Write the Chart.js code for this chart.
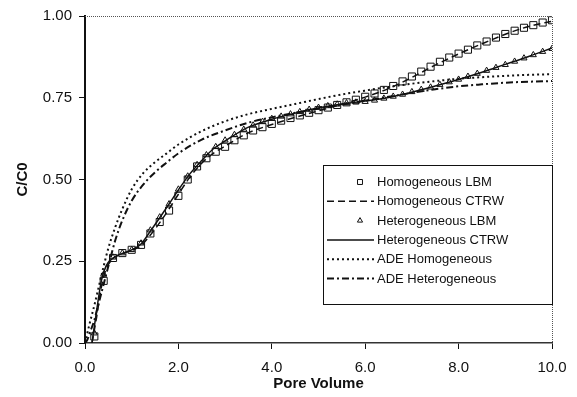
<!DOCTYPE html>
<html>
<head>
<meta charset="utf-8">
<script src="https://cdn.jsdelivr.net/npm/chart.js@4/dist/chart.umd.min.js"></script>
<style>
  html, body { margin: 0; padding: 0; background: #ffffff; }
  #wrap { width: 577px; height: 397px; }
</style>
</head>
<body>
<div id="wrap"><canvas id="chart-breakthrough" width="577" height="397"></canvas></div>
<script>
// Breakthrough curves - C/C0 vs pore volume

// LBM samples (markers)
const lbmPV = [0.2, 0.4, 0.6, 0.8, 1.0, 1.2, 1.4, 1.6, 1.8, 2.0,
               2.2, 2.4, 2.6, 2.8, 3.0, 3.2, 3.4, 3.6, 3.8, 4.0,
               4.2, 4.4, 4.6, 4.8, 5.0, 5.2, 5.4, 5.6, 5.8, 6.0,
               6.2, 6.4, 6.6, 6.8, 7.0, 7.2, 7.4, 7.6, 7.8, 8.0,
               8.2, 8.4, 8.6, 8.8, 9.0, 9.2, 9.4, 9.6, 9.8, 10.0];
const homLBM = [0.02, 0.19, 0.26, 0.275, 0.285, 0.30, 0.335, 0.37, 0.405, 0.45,
                0.50, 0.54, 0.565, 0.585, 0.60, 0.62, 0.635, 0.65, 0.66, 0.67,
                0.68, 0.688, 0.696, 0.704, 0.712, 0.72, 0.728, 0.736, 0.744, 0.753,
                0.763, 0.774, 0.786, 0.80, 0.815, 0.83, 0.845, 0.86, 0.873, 0.885,
                0.897, 0.91, 0.922, 0.934, 0.945, 0.955, 0.964, 0.972, 0.98, 0.987];
const hetLBM = [0.03, 0.21, 0.262, 0.275, 0.285, 0.305, 0.345, 0.385, 0.425, 0.47,
                0.51, 0.545, 0.575, 0.60, 0.62, 0.637, 0.653, 0.666, 0.677, 0.686,
                0.693, 0.70, 0.707, 0.714, 0.72, 0.725, 0.73, 0.734, 0.736, 0.738,
                0.742, 0.748, 0.754, 0.76, 0.768, 0.775, 0.782, 0.79, 0.798, 0.806,
                0.815, 0.824, 0.833, 0.842, 0.851, 0.861, 0.871, 0.881, 0.891, 0.90];

// CTRW fits (lines)
const ctrwPV = [0.15, 0.25, 0.35, 0.45, 0.6, 0.8, 1.0, 1.2, 1.4, 1.6,
                1.8, 2.0, 2.25, 2.5, 2.75, 3.0, 3.5, 4.0, 4.5, 5.0,
                5.5, 6.0, 6.5, 7.0, 7.5, 8.0, 8.5, 9.0, 9.5, 10.0];
const homCTRW = [0.0, 0.08, 0.17, 0.225, 0.258, 0.273, 0.283, 0.298, 0.33, 0.368,
                 0.41, 0.455, 0.508, 0.55, 0.58, 0.602, 0.643, 0.668, 0.69, 0.71,
                 0.73, 0.752, 0.778, 0.812, 0.85, 0.884, 0.915, 0.944, 0.968, 0.984];
const hetCTRW = [0.0, 0.10, 0.19, 0.235, 0.26, 0.274, 0.285, 0.303, 0.342, 0.383,
                 0.425, 0.468, 0.518, 0.558, 0.594, 0.618, 0.66, 0.684, 0.703, 0.719,
                 0.731, 0.74, 0.751, 0.767, 0.786, 0.806, 0.828, 0.852, 0.876, 0.902];

// ADE fits (lines)
const adePV = [0, 0.05, 0.1, 0.2, 0.3, 0.4, 0.5, 0.65, 0.8, 1.0,
               1.25, 1.5, 1.75, 2.0, 2.5, 3.0, 3.5, 4.0, 4.5, 5.0,
               5.5, 6.0, 6.5, 7.0, 7.5, 8.0, 8.5, 9.0, 9.5, 10.0];
const adeHom = [0.0, 0.03, 0.06, 0.115, 0.175, 0.235, 0.29, 0.355, 0.41, 0.47,
                0.52, 0.553, 0.58, 0.607, 0.648, 0.678, 0.70, 0.716, 0.731, 0.746,
                0.76, 0.772, 0.783, 0.793, 0.801, 0.808, 0.813, 0.817, 0.82, 0.822];
const adeHet = [0.0, 0.01, 0.03, 0.07, 0.125, 0.18, 0.235, 0.315, 0.375, 0.435,
                0.485, 0.522, 0.552, 0.58, 0.622, 0.65, 0.674, 0.69, 0.704, 0.717,
                0.729, 0.741, 0.753, 0.765, 0.776, 0.785, 0.791, 0.796, 0.799, 0.801];

const seriesLabels = ['Homogeneous LBM', 'Homogeneous CTRW', 'Heterogeneous LBM',
                      'Heterogeneous CTRW', 'ADE Homogeneous', 'ADE Heterogeneous'];
const xTicks = [0, 2, 4, 6, 8, 10];
const yTicks = [0, 0.25, 0.5, 0.75, 1.0];

const fontFamily = "'Liberation Sans', Arial, sans-serif";
const ink = '#111111';

const pairs = (xs, ys) => xs.map((x, i) => ({ x: x, y: ys[i] }));

// legend drawn inside the plot + dotted top/right frame
const insideLegend = {
    id: 'insideLegend',
    afterDatasetsDraw(chart) {
        const ctx = chart.ctx;
        const area = chart.chartArea;
        ctx.save();

        // frame (top + right)
        ctx.strokeStyle = '#555555';
        ctx.lineWidth = 1;
        ctx.setLineDash([1, 1]);
        ctx.beginPath();
        ctx.moveTo(area.left, area.top + 0.5);
        ctx.lineTo(area.right + 0.5, area.top + 0.5);
        ctx.lineTo(area.right + 0.5, area.bottom);
        ctx.stroke();
        ctx.setLineDash([]);

        // legend box
        const box = { x: 323.5, y: 165.5, w: 229, h: 139 };
        ctx.fillStyle = '#ffffff';
        ctx.fillRect(box.x, box.y, box.w, box.h);
        ctx.strokeStyle = ink;
        ctx.lineWidth = 1;
        ctx.strokeRect(box.x, box.y, box.w, box.h);

        ctx.font = '13px ' + fontFamily;
        ctx.textBaseline = 'middle';
        ctx.textAlign = 'left';
        chart.data.datasets.forEach((ds, i) => {
            const y = 182 + i * 19.3;
            ctx.strokeStyle = ink;
            if (ds.showLine) {
                ctx.lineWidth = ds.borderWidth;
                ctx.setLineDash(ds.borderDash || []);
                ctx.beginPath();
                ctx.moveTo(327, y);
                ctx.lineTo(374, y);
                ctx.stroke();
                ctx.setLineDash([]);
            } else {
                ctx.fillStyle = 'rgba(0,0,0,0)';
                ctx.lineWidth = 1;
                Chart.helpers.drawPoint(ctx, {
                    pointStyle: ds.pointStyle,
                    radius: ds.pointStyle === 'rect' ? 3.5 : 3,
                    rotation: 0,
                    borderWidth: 1
                }, 360, y);
            }
            ctx.fillStyle = ink;
            ctx.fillText(ds.label, 377, y + 0.5);
        });
        ctx.restore();
    }
};

function createBreakthroughChart() {
    const ctx = document.getElementById('chart-breakthrough');
    if (!ctx) return;

    const lineBase = {
        showLine: true,
        pointRadius: 0,
        pointHoverRadius: 0,
        borderColor: ink,
        backgroundColor: 'transparent',
        cubicInterpolationMode: 'monotone'
    };

    new Chart(ctx, {
        type: 'scatter',
        data: {
            datasets: [
                {
                    label: seriesLabels[0],
                    data: pairs(lbmPV, homLBM),
                    showLine: false,
                    pointStyle: 'rect',
                    pointRadius: 5,
                    borderColor: ink,
                    borderWidth: 1,
                    backgroundColor: 'rgba(0,0,0,0)'
                },
                { ...lineBase, label: seriesLabels[1], data: pairs(ctrwPV, homCTRW), borderWidth: 1.5, borderDash: [7, 4] },
                {
                    label: seriesLabels[2],
                    data: pairs(lbmPV, hetLBM),
                    showLine: false,
                    pointStyle: 'triangle',
                    pointRadius: 3.5,
                    borderColor: ink,
                    borderWidth: 1,
                    backgroundColor: 'rgba(0,0,0,0)'
                },
                { ...lineBase, label: seriesLabels[3], data: pairs(ctrwPV, hetCTRW), borderWidth: 1.5 },
                { ...lineBase, label: seriesLabels[4], data: pairs(adePV, adeHom), borderWidth: 2, borderDash: [2, 3] },
                { ...lineBase, label: seriesLabels[5], data: pairs(adePV, adeHet), borderWidth: 2, borderDash: [7, 3, 2, 3] }
            ]
        },
        options: {
            responsive: false,
            animation: false,
            layout: { padding: { top: 13, right: 25, left: 0, bottom: 0 } },
            plugins: {
                legend: { display: false },
                tooltip: { enabled: false }
            },
            scales: {
                x: {
                    type: 'linear',
                    min: 0,
                    max: 10,
                    afterFit: s => { s.height = 54; },
                    afterBuildTicks: s => { s.ticks = xTicks.map(v => ({ value: v })); },
                    border: { color: '#333333', width: 1.5 },
                    grid: { drawOnChartArea: false, drawTicks: true, tickLength: 6, color: ink, lineWidth: 1 },
                    ticks: {
                        color: ink,
                        padding: 10,
                        maxRotation: 0,
                        font: { family: fontFamily, size: 15 },
                        callback: v => Number(v).toFixed(1)
                    },
                    title: {
                        display: true,
                        text: 'Pore Volume',
                        color: ink,
                        padding: { top: 0, bottom: 4 },
                        font: { family: fontFamily, size: 15, weight: 'bold' }
                    }
                },
                y: {
                    type: 'linear',
                    min: 0,
                    max: 1,
                    afterFit: s => { s.width = 85; },
                    afterBuildTicks: s => { s.ticks = yTicks.map(v => ({ value: v })); },
                    border: { color: ink, width: 2 },
                    grid: { drawOnChartArea: false, drawTicks: true, tickLength: 6, color: ink, lineWidth: 1 },
                    ticks: {
                        color: ink,
                        padding: 7,
                        font: { family: fontFamily, size: 15 },
                        callback: v => Number(v).toFixed(2)
                    },
                    title: {
                        display: true,
                        text: 'C/C0',
                        color: ink,
                        padding: { top: 14, bottom: 0 },
                        font: { family: fontFamily, size: 15, weight: 'bold' }
                    }
                }
            }
        },
        plugins: [insideLegend]
    });
}

createBreakthroughChart();
</script>
</body>
</html>
